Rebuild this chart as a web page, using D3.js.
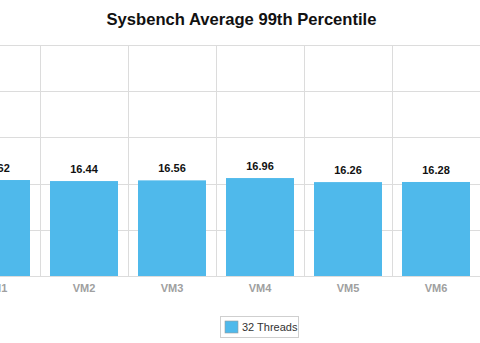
<!DOCTYPE html>
<html>
<head>
<meta charset="utf-8">
<script src="https://cdnjs.cloudflare.com/ajax/libs/d3/7.8.5/d3.min.js"></script>
<style>
  html, body { margin: 0; padding: 0; background: #fff; }
  svg { display: block; font-family: "Liberation Sans", Arial, sans-serif; }
</style>
</head>
<body>
<svg id="chart" width="480" height="343"></svg>
<script>
// Sysbench 99th percentile latency per VM
const categories = ["VM1", "VM2", "VM3", "VM4", "VM5", "VM6"];
const values = [16.62, 16.44, 16.56, 16.96, 16.26, 16.28];
const yTicks = [0, 8, 16, 24, 32, 40];
const seriesName = "32 Threads";
const title = "Sysbench Average 99th Percentile";

const svg = d3.select("#chart");

// plot area (left part of the first band runs past the viewport edge)
const plot = { left: -48, right: 480, top: 45, bottom: 276 };

const x = d3.scaleBand()
  .domain(categories)
  .range([plot.left, plot.right])
  .paddingInner(0)
  .paddingOuter(0);

const y = d3.scaleLinear()
  .domain([0, 40])
  .range([plot.bottom, plot.top]);

// title
svg.append("text")
  .attr("x", 241.5)
  .attr("y", 25)
  .attr("text-anchor", "middle")
  .attr("font-size", 16.6)
  .attr("font-weight", "bold")
  .attr("fill", "#111")
  .text(title);

// horizontal grid
svg.append("g")
  .selectAll("line")
  .data(yTicks)
  .join("line")
  .attr("x1", plot.left)
  .attr("x2", plot.right)
  .attr("y1", d => Math.round(y(d)) + 0.5)
  .attr("y2", d => Math.round(y(d)) + 0.5)
  .attr("stroke", "#dcdcdc")
  .attr("stroke-width", 1);

// vertical grid at band boundaries
const bounds = categories.map(c => x(c)).concat([plot.right]);
svg.append("g")
  .selectAll("line")
  .data(bounds)
  .join("line")
  .attr("x1", d => Math.round(d) + 0.5)
  .attr("x2", d => Math.round(d) + 0.5)
  .attr("y1", plot.top)
  .attr("y2", plot.bottom)
  .attr("stroke", "#dcdcdc")
  .attr("stroke-width", 1);

// bars
const pad = 10;
svg.append("g")
  .selectAll("rect")
  .data(values)
  .join("rect")
  .attr("x", (d, i) => x(categories[i]) + pad)
  .attr("width", x.bandwidth() - 2 * pad)
  .attr("y", d => y(d))
  .attr("height", d => y(0) - y(d))
  .attr("fill", "#4fb9eb");

// value labels
svg.append("g")
  .selectAll("text")
  .data(values)
  .join("text")
  .attr("x", (d, i) => x(categories[i]) + x.bandwidth() / 2)
  .attr("y", d => y(d) - 8)
  .attr("text-anchor", "middle")
  .attr("font-size", 11)
  .attr("font-weight", "bold")
  .attr("fill", "#111")
  .text(d => d.toFixed(2));

// category axis
const xAxis = svg.append("g")
  .attr("transform", `translate(0,${plot.bottom})`)
  .call(d3.axisBottom(x).tickSize(0).tickPadding(8));
xAxis.select(".domain").remove();
xAxis.selectAll("text")
  .attr("font-size", 11)
  .attr("font-weight", "bold")
  .attr("fill", "#a0a0a0")
  .attr("font-family", "Liberation Sans, Arial, sans-serif");

// legend
const lg = svg.append("g").attr("transform", "translate(220,316)");
lg.append("rect")
  .attr("x", 0.5).attr("y", 0.5)
  .attr("width", 78).attr("height", 21)
  .attr("fill", "#fff")
  .attr("stroke", "#cfcfcf");
lg.append("rect")
  .attr("x", 5).attr("y", 5)
  .attr("width", 13).attr("height", 12)
  .attr("fill", "#4fb9eb")
  .attr("stroke", "#9a9a9a")
  .attr("stroke-width", 0.6);
lg.append("text")
  .attr("x", 22).attr("y", 15)
  .attr("font-size", 11)
  .attr("fill", "#333")
  .text(seriesName);
</script>
</body>
</html>
